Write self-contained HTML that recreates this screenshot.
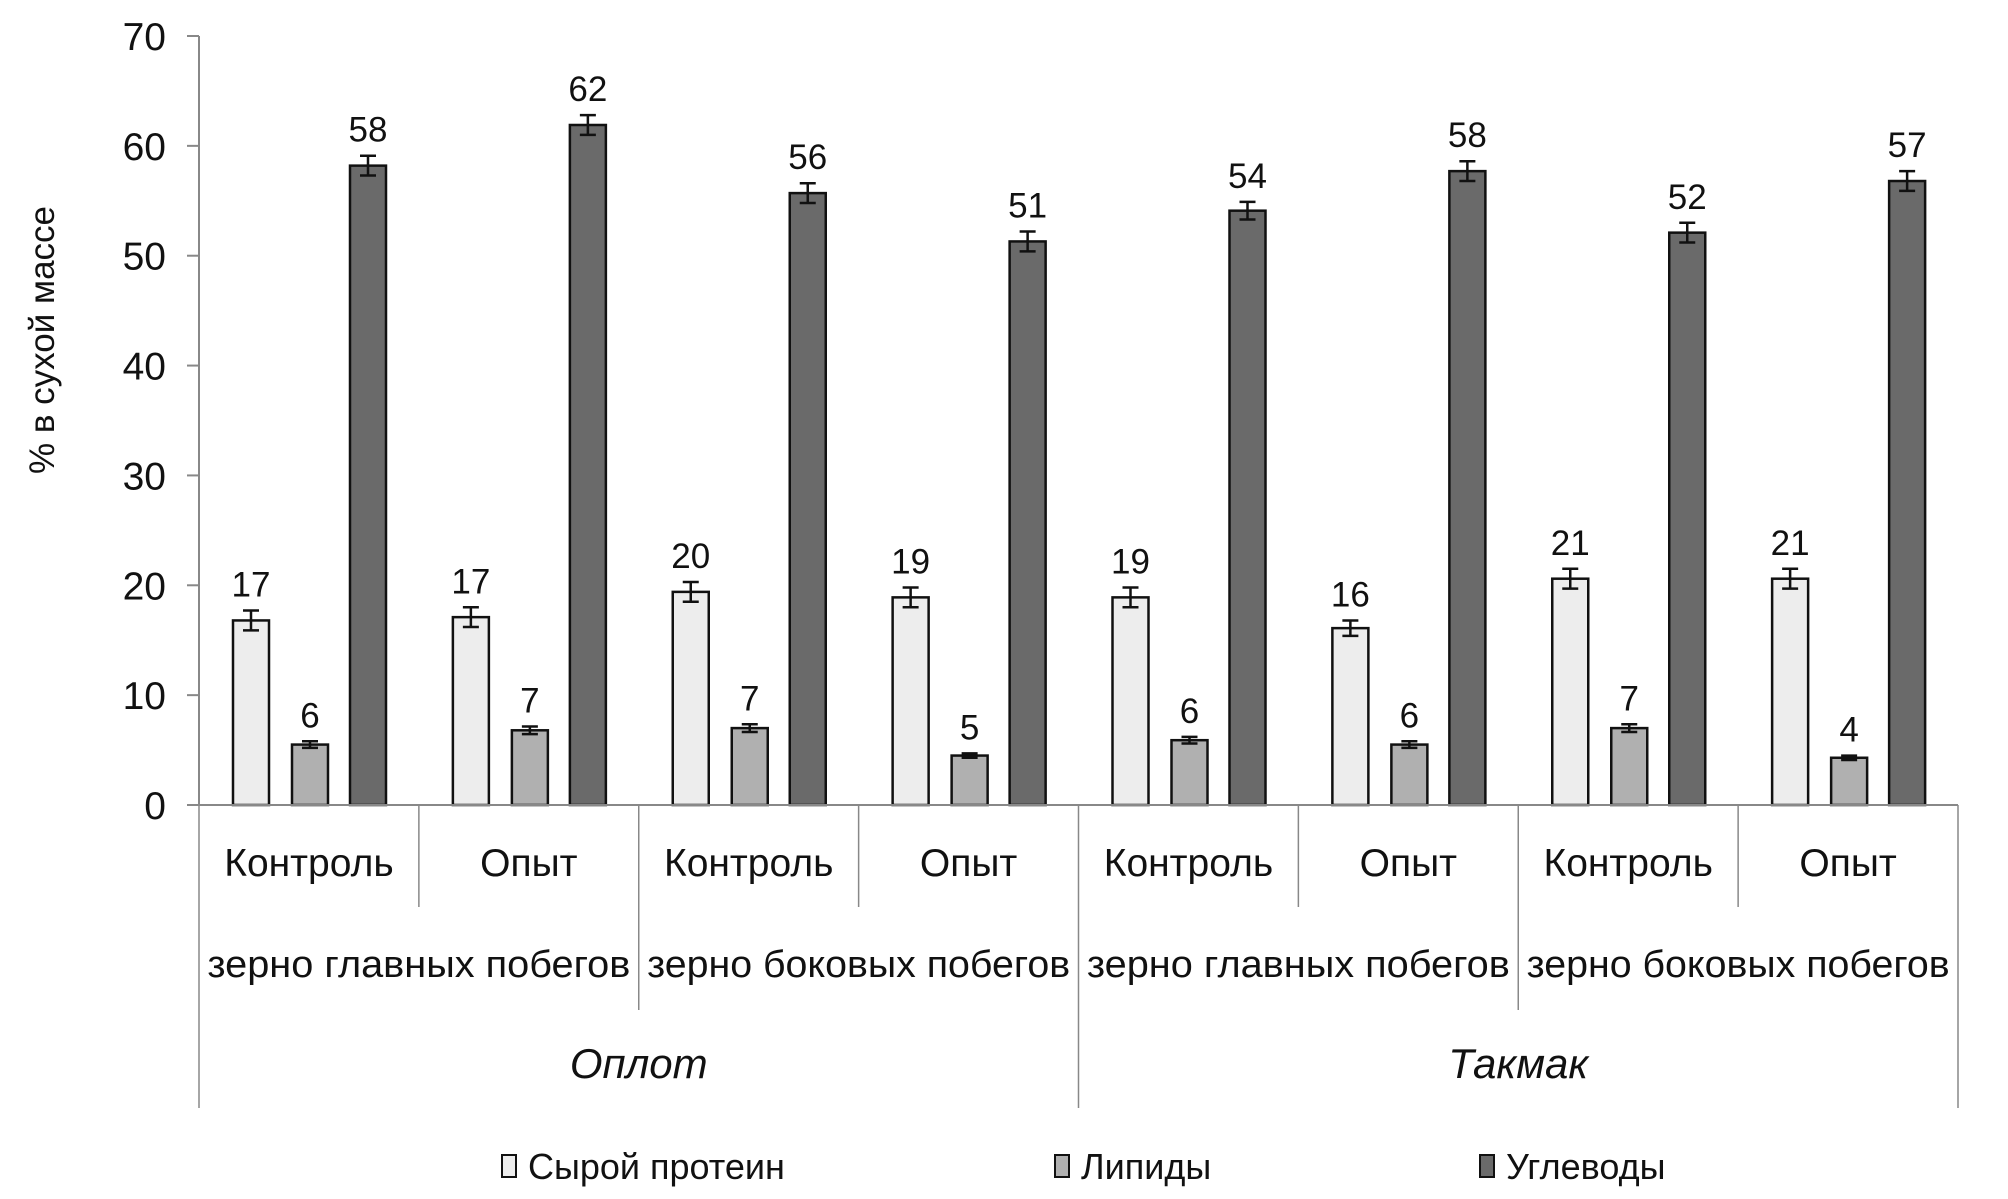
<!DOCTYPE html>
<html><head><meta charset="utf-8"><style>
html,body{margin:0;padding:0;background:#fff;}
svg{display:block;font-family:"Liberation Sans",Arial,sans-serif;}
</style></head><body>
<svg id="chart" width="2008" height="1199" viewBox="0 0 2008 1199" xmlns="http://www.w3.org/2000/svg"></svg>
<script>
const categories = ["Контроль","Опыт","Контроль","Опыт","Контроль","Опыт","Контроль","Опыт"];
const grainLabels = ["зерно главных побегов","зерно боковых побегов","зерно главных побегов","зерно боковых побегов"];
const varieties = ["Оплот","Такмак"];
const seriesNames = ["Сырой протеин","Липиды","Углеводы"];
const protein = [16.8,17.1,19.4,18.9,18.9,16.1,20.6,20.6];
const lipids = [5.5,6.8,7.0,4.5,5.9,5.5,7.0,4.3];
const carbs = [58.2,61.9,55.7,51.3,54.1,57.7,52.1,56.8];
const proteinErr = [0.9,0.9,0.9,0.9,0.9,0.7,0.9,0.9];
const lipidsErr = [0.3,0.35,0.35,0.2,0.3,0.3,0.35,0.2];
const carbsErr = [0.9,0.9,0.9,0.9,0.8,0.9,0.9,0.9];
const proteinLabels = ["17","17","20","19","19","16","21","21"];
const lipidsLabels = ["6","7","7","5","6","6","7","4"];
const carbsLabels = ["58","62","56","51","54","58","52","57"];
const yTicks = [0,10,20,30,40,50,60,70];

const svg = document.getElementById('chart');
const NS = "http://www.w3.org/2000/svg";
const X0 = 199, X1 = 1958, Y0 = 805, YTOP = 36, YMAX = 70;
const groupW = (X1 - X0) / categories.length;
const y = v => Y0 - (v / YMAX) * (Y0 - YTOP);
const gx = i => X0 + i * groupW;
const colors = ["#ededed","#b0b0b0","#6a6a6a"];
const offsets = [34, 93, 151];
const BW = 36;

function mk(tag, attrs, text) {
  const e = document.createElementNS(NS, tag);
  for (const k in attrs) e.setAttribute(k, attrs[k]);
  if (text !== undefined) e.textContent = text;
  svg.appendChild(e);
  return e;
}

let ax = mk('line', {x1:X0, y1:YTOP, x2:X0, y2:Y0, stroke:'#888', 'stroke-width':2});


yTicks.forEach(t => {
  const tk = mk('line', {x1:X0-12, y1:y(t), x2:X0, y2:y(t), stroke:'#888', 'stroke-width':2});
  
  
  const lb = mk('text', {x:166, y:y(t)+14, 'text-anchor':'end', 'font-size':39, fill:'#111'}, String(t));
  
  
});
const yt = mk('text', {x:0, y:0, transform:'translate(54,340) rotate(-90)', 'text-anchor':'middle', 'font-size':35, fill:'#111'}, '% в сухой массе');



const series = [protein, lipids, carbs];
const errs = [proteinErr, lipidsErr, carbsErr];
const labels = [proteinLabels, lipidsLabels, carbsLabels];
series.forEach((vals, s) => {
  vals.forEach((v, i) => {
    const bx = gx(i) + offsets[s];
    const r = mk('rect', {x:bx, y:y(v), width:BW, height:Y0 - y(v), fill:colors[s], stroke:'#111', 'stroke-width':2.5});
    
    
    const cx = bx + BW/2, e = errs[s][i];
    const eb = mk('path', {d:`M${cx-8},${y(v+e)}H${cx+8}M${cx},${y(v+e)}V${y(v-e)}M${cx-8},${y(v-e)}H${cx+8}`, stroke:'#111', 'stroke-width':2.5, fill:'none'});
    
    
    const dl = mk('text', {x:cx, y:y(v+e)-14, 'text-anchor':'middle', 'font-size':35, fill:'#111'}, labels[s][i]);
    
    
  });
});

const xa = mk('line', {x1:X0-12, y1:Y0, x2:X1, y2:Y0, stroke:'#888', 'stroke-width':2});


for (let i = 0; i <= categories.length; i++) {
  const bottom = (i % 4 === 0) ? 1108 : (i % 2 === 0 ? 1010 : 907);
  const d = mk('line', {x1:gx(i), y1:Y0, x2:gx(i), y2:bottom, stroke:'#888', 'stroke-width':1.5});
  
  
}
categories.forEach((c, i) => {
  const t = mk('text', {x:gx(i)+groupW/2, y:876, 'text-anchor':'middle', 'font-size':39, fill:'#111'}, c);
  
  
});
grainLabels.forEach((c, i) => {
  const t = mk('text', {x:gx(2*i)+groupW, y:977, 'text-anchor':'middle', 'font-size':38, fill:'#111', textLength:423, lengthAdjust:'spacingAndGlyphs'}, c);
  
  
});
varieties.forEach((c, i) => {
  const t = mk('text', {x:gx(4*i)+2*groupW, y:1078, 'text-anchor':'middle', 'font-size':42, 'font-style':'italic', fill:'#111'}, c);
  
  
});

const legendX = [502, 1055, 1480];
seriesNames.forEach((n, s) => {
  const m = mk('rect', {x:legendX[s], y:1155, width:14, height:22, fill:colors[s], stroke:'#111', 'stroke-width':2});
  
  
  const t = mk('text', {x:legendX[s]+26, y:1179, 'font-size':36, fill:'#111'}, n);
  
  
});
</script>
</body></html>
